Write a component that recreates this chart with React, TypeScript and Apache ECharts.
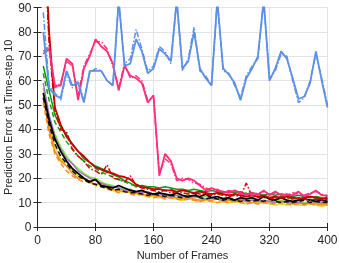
import React, { useEffect, useRef } from "react";
import * as echarts from "echarts";

const frames = [8, 16, 24, 32, 40, 48, 56, 64, 72, 80, 88, 96, 104, 112, 120, 128, 136, 144, 152, 160, 168, 176, 184, 192, 200, 208, 216, 224, 232, 240, 248, 256, 264, 272, 280, 288, 296, 304, 312, 320, 328, 336, 344, 352, 360, 368, 376, 384, 392, 400];

const xTicks = [0, 80, 160, 240, 320, 400];
const yTicks = [0, 10, 20, 30, 40, 50, 60, 70, 80, 90];

const blueSolid = [80, 57, 54, 53, 64, 58, 59, 51, 64, 64, 64, 60, 58, 93, 66, 67, 77, 72, 63, 65, 73, 71, 68, 93, 65, 68, 80, 65, 61, 58, 93, 65, 62.5, 59, 52, 61, 65, 70, 93, 60, 65, 72, 69, 61, 52.5, 53.5, 59, 72, 60, 49];
const blueDash = [88, 58, 55, 52, 63, 57, 60, 52, 63, 65, 64, 60, 58, 93, 67, 69, 81, 73, 64, 66, 74, 72, 67, 93, 64, 69, 82, 64, 62, 58, 93, 64, 63, 58, 53, 62, 66, 69, 93, 61, 64, 71, 70, 60, 51, 53, 60, 71, 61, 50];
const pinkSolid = [71, 73, 58, 58, 69, 67, 52, 65, 70, 77, 74, 72, 67, 56, 66, 62, 61, 59, 51, 54, 21, 30, 27, 20, 19, 20, 19, 17, 15, 16, 15, 14.5, 14, 15, 14, 13, 14, 13, 15, 13, 14.5, 13, 13.5, 13, 14.5, 12.5, 13.5, 15, 13, 13];
const pinkDash = [72, 74, 57, 59, 68, 66, 54, 66, 71, 76, 76, 73, 66, 57, 67, 61, 62, 60, 52, 53, 22, 28, 26, 19, 20, 19.5, 18, 17.5, 16, 15, 15.5, 14, 15, 14.5, 13.5, 14, 13, 14, 14.5, 13.5, 14, 13.5, 13, 14, 13.5, 13, 14, 14.5, 13.5, 12.5];
const redSolid = [130, 80, 49, 42, 37, 34, 31, 29, 26.5, 24.5, 23.5, 22.5, 22, 21, 20.5, 19.5, 17.5, 16.5, 16, 15.5, 15.5, 15, 15, 14.5, 15, 14.5, 14, 14.5, 14, 13.5, 14, 13.5, 13, 13.5, 13, 12.5, 13, 12.5, 13, 12, 12.5, 12, 12.5, 12, 11.5, 12, 12.5, 12, 11.5, 12];
const redDash = [125, 75, 48, 40, 39, 32, 29, 27, 24, 23, 21.5, 25.5, 20, 19.5, 18.5, 21, 17, 16, 15.5, 15, 14.5, 15, 14, 14.5, 14, 13.5, 14, 13.5, 13.5, 13, 13.5, 13, 12.5, 13, 12.5, 18, 12.5, 12, 12.5, 12, 11.5, 12, 12, 11.5, 12, 11.5, 11, 11.5, 11, 11.5];
const greenSolid = [66, 56, 46, 41, 38, 34, 31, 28, 26.5, 25, 24, 23, 21.5, 20.5, 19, 18, 16.5, 17, 16.5, 16.5, 16, 16.5, 16, 15.5, 15.5, 15, 15.5, 15, 14.5, 15, 14.5, 14, 14.5, 14, 14.5, 13.5, 14, 13.5, 13, 13.5, 13, 13.5, 13, 12.5, 13, 12.5, 12, 12.5, 12, 11.5];
const greenDash = [63, 52, 43, 39, 35, 32, 29, 27, 25, 24, 22.5, 21.5, 20.5, 19.5, 18.5, 17.5, 17, 16.5, 16, 15.5, 15.5, 15, 15.5, 14.5, 15, 14.5, 14, 14.5, 14, 13.5, 14, 13.5, 13, 13.5, 13, 12.5, 13, 12.5, 12, 12.5, 12, 12.5, 12, 11.5, 12, 11.5, 11, 11.5, 11, 10.5];
const blackSolid = [55, 44, 36, 31, 27, 24, 22, 20, 18.5, 19.5, 17, 16.5, 16, 17, 16, 15, 14.5, 15, 14, 13.5, 14, 13.5, 13, 14, 13, 12.5, 13, 12.5, 13.5, 12, 12.5, 11.5, 12, 11, 12, 11.5, 12, 11, 12.5, 11.5, 11, 12, 11, 10.5, 11, 11.5, 11, 10.5, 11, 10.5];
const blackDash = [53, 42, 34, 29, 26, 23, 21, 19.5, 18, 17.5, 16.5, 16, 15, 15.5, 14.5, 14, 14, 13.5, 13, 13.5, 13, 12.5, 13, 12.5, 12, 12.5, 14, 12, 11.5, 12, 11.5, 11, 11.5, 11, 10.5, 11, 10.5, 11, 10.5, 11.5, 10.5, 10, 10.5, 10, 10.5, 11, 10, 10.5, 10, 10];
const orangeSolid = [53, 40, 31, 27, 25, 22, 20, 20, 18.5, 17.5, 18, 16, 15.5, 15, 14.5, 14.5, 14, 13.5, 13, 13, 12.5, 12, 12.5, 12, 11.5, 12, 11.5, 11, 11.5, 11, 11.5, 10.5, 11, 10.5, 11, 10.5, 10, 10.5, 10, 10.5, 10, 10.5, 10, 9.5, 10, 9.5, 10, 9.5, 9, 9.5];
const orangeDash = [51, 38, 30, 26, 23, 21, 19.5, 18.5, 19, 17, 16.5, 15.5, 15, 14, 14.5, 13.5, 13, 13.5, 12.5, 12, 12.5, 11.5, 12, 11.5, 11, 11.5, 11, 10.5, 11, 10.5, 10, 10.5, 10, 10.5, 10, 9.5, 10, 9.5, 10, 9.5, 9.5, 10, 9.5, 9, 9.5, 9, 9.5, 9, 9.5, 9];
const purpleSolid = [59, 46, 37, 32, 28, 26, 23, 21.5, 20, 19, 18, 17, 16.5, 16, 15, 15.5, 14.5, 14, 14.5, 13.5, 13, 13.5, 12.5, 13, 12.5, 12, 12.5, 12, 11.5, 12, 11.5, 11, 11.5, 11, 11.5, 10.5, 11, 10.5, 11, 10.5, 10, 10.5, 10, 10.5, 10, 9.5, 10, 10.5, 10, 10];
const limeSolid = [57, 45, 38, 33, 29, 26, 24, 22, 20.5, 20, 18.5, 17.5, 17, 16, 15.5, 15, 14.5, 14.5, 14, 13.5, 14, 13, 13.5, 13, 12.5, 13, 12.5, 12, 12.5, 12, 11.5, 12, 11.5, 11, 11.5, 11, 11.5, 11, 10.5, 11, 10.5, 11, 10.5, 10, 10.5, 10, 10.5, 10, 9.5, 9];
const yellowSolid = [54, 42, 33, 28, 25, 23, 21, 19.5, 18, 17.5, 17, 16, 15, 14.5, 14.5, 14, 13.5, 13, 12.5, 12.5, 12, 12.5, 12, 11.5, 11, 11.5, 11, 10.5, 11, 10.5, 10, 10.5, 10, 10.5, 10, 9.5, 10, 9.5, 10, 9.5, 9, 9.5, 9, 9.5, 9, 9, 9.5, 9, 8.5, 9];

const DASH = [5, 3];
const DASHDOT = [6, 2, 1.5, 2];

function mk(name: string, values: number[], color: string, type: any, width = 1.5) {
  return {
    type: "line",
    name,
    data: frames.map((f, i) => [f, values[i]]),
    symbol: "none",
    clip: true,
    silent: true,
    lineStyle: { color, width, type },
    itemStyle: { color },
  };
}

export default function App() {
  const ref = useRef<HTMLDivElement>(null);
  useEffect(() => {
    const chart = echarts.init(ref.current!, null, { renderer: "svg" });
    const textColor = "#262626";
    const axisColor = "#262626";
    const font = "'Liberation Sans', Arial, Helvetica, sans-serif";
    chart.setOption({
      animation: false,
      grid: { left: 37.5, top: 7.5, right: 11.5, bottom: 36, containLabel: false, outerBoundsMode: "none" },
      xAxis: [
        {
          type: "value",
          min: 0,
          max: 400,
          interval: 80,
          name: "Number of Frames",
          nameLocation: "middle",
          nameGap: 22,
          nameMoveOverlap: false,
          nameTextStyle: { color: textColor, fontSize: 11, fontFamily: font },
          axisLine: { show: true, lineStyle: { color: axisColor, width: 1 } },
          axisTick: { show: true, inside: true, length: 4, lineStyle: { color: axisColor } },
          axisLabel: { color: textColor, fontSize: 12, fontFamily: font, margin: 7, formatter: (v: number) => (xTicks.includes(v) ? String(v) : "") },
          splitLine: { show: true, lineStyle: { color: "#E3E3E3", width: 1 } },
        },
        {
          type: "value",
          position: "top",
          min: 0,
          max: 400,
          interval: 80,
          axisLine: { show: true, lineStyle: { color: axisColor, width: 1 } },
          axisTick: { show: true, inside: true, length: 4, lineStyle: { color: axisColor } },
          axisLabel: { show: false },
          splitLine: { show: false },
        },
      ],
      yAxis: [
        {
          type: "value",
          min: 0,
          max: 90,
          interval: 10,
          name: "Prediction Error at Time-step 10",
          nameLocation: "middle",
          nameGap: 24,
          nameMoveOverlap: false,
          nameTextStyle: { color: textColor, fontSize: 11, fontFamily: font },
          axisLine: { show: true, lineStyle: { color: axisColor, width: 1 } },
          axisTick: { show: true, inside: true, length: 4, lineStyle: { color: axisColor } },
          axisLabel: { color: textColor, fontSize: 12, fontFamily: font, margin: 6, formatter: (v: number) => (yTicks.includes(v) ? String(v) : "") },
          splitLine: { show: true, lineStyle: { color: "#E3E3E3", width: 1 } },
        },
        {
          type: "value",
          position: "right",
          min: 0,
          max: 90,
          interval: 10,
          axisLine: { show: true, lineStyle: { color: axisColor, width: 1 } },
          axisTick: { show: true, inside: true, length: 4, lineStyle: { color: axisColor } },
          axisLabel: { show: false },
          splitLine: { show: false },
        },
      ],
      series: [
        mk("yellow", yellowSolid, "#E2DA10", "solid"),
        mk("lime", limeSolid, "#7CEB3C", "solid"),
        mk("orange-dash", orangeDash, "#FF8A1C", DASH),
        mk("orange", orangeSolid, "#FF8A1C", "solid"),
        mk("purple", purpleSolid, "#A274C8", "solid"),
        mk("green-dash", greenDash, "#12A012", DASH),
        mk("green", greenSolid, "#0E960E", "solid"),
        mk("black-dash", blackDash, "#111111", DASH),
        mk("black", blackSolid, "#000000", "solid", 1.8),
        mk("red-dash", redDash, "#D80000", DASHDOT),
        mk("red", redSolid, "#C80000", "solid", 1.8),
        mk("pink-dash", pinkDash, "#FF3385", DASHDOT),
        mk("pink", pinkSolid, "#FF2D7A", "solid", 1.8),
        mk("blue-dash", blueDash, "#5E92EA", DASHDOT),
        mk("blue", blueSolid, "#5B8FE8", "solid", 1.8),
      ],
    });
    return () => chart.dispose();
  }, []);
  return <div ref={ref} style={{ position: "fixed", left: 0, top: 0, width: 339, height: 263 }} />;
}
